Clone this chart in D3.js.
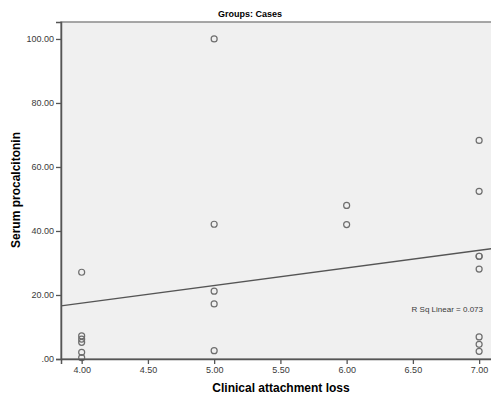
<!DOCTYPE html>
<html lang="en">
<head>
    <meta charset="utf-8">
    <title>Groups: Cases</title>
    <script src="https://d3js.org/d3.v7.min.js"></script>
    <style>
        body { margin: 0; background: #fff; }
        text { font-family: "Liberation Sans", Arial, sans-serif; }
    </style>
</head>
<body>
<div id="chart"></div>
<script>
// clinical attachment loss per case
var calValues = [4, 4, 4, 4, 4, 4,
                 5, 5, 5, 5, 5,
                 6, 6,
                 7, 7, 7, 7, 7, 7, 7, 7];
// serum procalcitonin per case
var pctValues = [27.1, 7.2, 6.2, 5.2, 2.1, 0.4,
                 100, 42.1, 21.2, 17.2, 2.6,
                 48, 42,
                 68.3, 52.4, 32.1, 32.1, 28.1, 6.9, 4.6, 2.4];
var xTicks = [4, 4.5, 5, 5.5, 6, 6.5, 7];
var yTicks = [0, 20, 40, 60, 80, 100];
var rSqLabel = "R Sq Linear = 0.073";

(function () {
    var width = 491, height = 396;
    var svg = d3.select("#chart").append("svg")
        .attr("width", width).attr("height", height);

    var x = d3.scaleLinear().domain([3.844, 7.15]).range([61, 499]);
    var y = d3.scaleLinear().domain([0, 105.3]).range([359, 22]);

    var fmt = function (d) { return d3.format(".2f")(d).replace(/^0\./, "."); };

    // plot background
    svg.append("rect")
        .attr("x", x.range()[0]).attr("y", y.range()[1])
        .attr("width", x.range()[1] - x.range()[0])
        .attr("height", y.range()[0] - y.range()[1])
        .style("fill", "#f0f0f0")
        .style("stroke", "#8a8a8a")
        .style("stroke-width", 1.5);

    // least squares fit
    var pts = calValues.map(function (c, i) { return [c, pctValues[i]]; });
    var mx = d3.mean(calValues), my = d3.mean(pctValues);
    var sxy = d3.sum(pts, function (p) { return (p[0] - mx) * (p[1] - my); });
    var sxx = d3.sum(pts, function (p) { return (p[0] - mx) * (p[0] - mx); });
    var slope = sxy / sxx, icpt = my - slope * mx;

    svg.append("line")
        .attr("x1", x(x.domain()[0])).attr("y1", y(icpt + slope * x.domain()[0]))
        .attr("x2", x(x.domain()[1])).attr("y2", y(icpt + slope * x.domain()[1]))
        .style("stroke", "#555")
        .style("stroke-width", 1.3);

    svg.append("g").selectAll("circle")
        .data(pts)
        .enter().append("circle")
        .attr("cx", function (d) { return x(d[0]); })
        .attr("cy", function (d) { return y(d[1]); })
        .attr("r", 3)
        .style("fill", "none")
        .style("stroke", "#6e6e6e")
        .style("stroke-width", 1.2);

    // axes
    var xAxis = svg.append("g")
        .attr("transform", "translate(0," + y(0) + ")")
        .call(d3.axisBottom(x).tickValues(xTicks).tickFormat(fmt).tickSize(5).tickPadding(3));
    var yAxis = svg.append("g")
        .attr("transform", "translate(" + x.range()[0] + ",0)")
        .call(d3.axisLeft(y).tickValues(yTicks).tickFormat(fmt).tickSize(5).tickPadding(2));

    [xAxis, yAxis].forEach(function (g) {
        g.select(".domain").style("stroke", "#555").style("stroke-width", 1.5);
        g.selectAll(".tick line").style("stroke", "#555").style("stroke-width", 1.3);
        g.selectAll(".tick text")
            .style("font-size", "9px")
            .style("fill", "#3a3a3a");
    });

    svg.append("text")
        .attr("x", 250).attr("y", 17)
        .attr("text-anchor", "middle")
        .style("font-size", "9px")
        .style("font-weight", "bold")
        .text("Groups: Cases");

    svg.append("text")
        .attr("x", 281).attr("y", 392)
        .attr("text-anchor", "middle")
        .style("font-size", "12px")
        .style("font-weight", "bold")
        .text("Clinical attachment loss");

    svg.append("text")
        .attr("transform", "translate(20,190) rotate(-90)")
        .attr("text-anchor", "middle")
        .style("font-size", "12px")
        .style("font-weight", "bold")
        .text("Serum procalcitonin");

    svg.append("text")
        .attr("x", 483).attr("y", 312)
        .attr("text-anchor", "end")
        .style("font-size", "8px")
        .style("fill", "#3a3a3a")
        .text(rSqLabel);
}());
</script>
</body>
</html>
